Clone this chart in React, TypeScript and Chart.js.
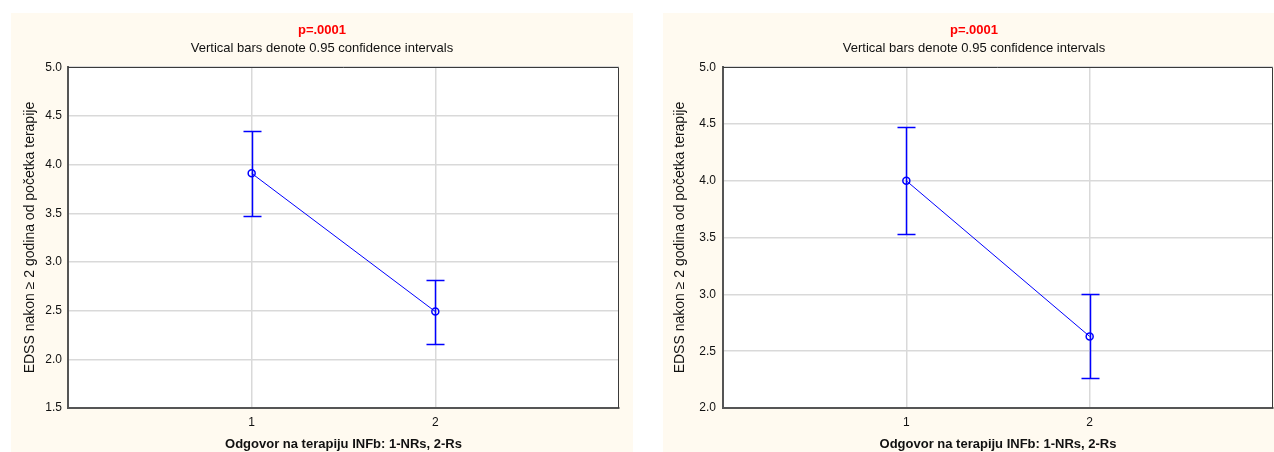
import React, { useEffect, useRef } from "react";
import { Chart, registerables } from "chart.js";

Chart.register(...registerables);

// ---- data ----
const categories = [1, 2];
const xTickLabels = ["1", "2"];

const leftMeans = [3.91, 2.49];
const leftUpper = [4.34, 2.81];
const leftLower = [3.47, 2.16];
const leftYRange = [1.5, 5.0];

const rightMeans = [4.0, 2.63];
const rightUpper = [4.47, 3.0];
const rightLower = [3.53, 2.26];
const rightYRange = [2.0, 5.0];

const titleText = "p=.0001";
const subtitleText = "Vertical bars denote 0.95 confidence intervals";
const yTitleText = "EDSS nakon \u2265 2 godina od po\u010detka terapije";
const xTitleText = "Odgovor na terapiju INFb: 1-NRs, 2-Rs";

const FONT = "'Liberation Sans', Arial, Helvetica, sans-serif";
const BLUE = "#0000ff";

type PanelProps = {
  means: number[];
  upper: number[];
  lower: number[];
  yRange: number[];
  width: number;
  height: number;
  yAxisWidth: number;
  rightMargin: number;
  yTitlePad: number;
  yTickPad: number;
};

function Panel(p: PanelProps) {
  const ref = useRef<HTMLCanvasElement>(null);
  useEffect(() => {
    const canvas = ref.current!;
    const errorBars = {
      id: "errorBars",
      afterDatasetsDraw(chart: any) {
        const { ctx } = chart;
        const x = chart.scales.x;
        const y = chart.scales.y;
        ctx.save();
        ctx.strokeStyle = BLUE;
        ctx.lineWidth = 1.5;
        categories.forEach((c, i) => {
          const px = Math.round(x.getPixelForValue(c)) + 0.5;
          const pu = Math.round(y.getPixelForValue(p.upper[i])) + 0.5;
          const pl = Math.round(y.getPixelForValue(p.lower[i])) + 0.5;
          ctx.beginPath();
          ctx.moveTo(px, pu);
          ctx.lineTo(px, pl);
          ctx.moveTo(px - 9, pu);
          ctx.lineTo(px + 9, pu);
          ctx.moveTo(px - 9, pl);
          ctx.lineTo(px + 9, pl);
          ctx.stroke();
        });
        ctx.restore();
      },
    };
    const plotBox = {
      id: "plotBox",
      beforeDraw(chart: any) {
        const { ctx, chartArea: a } = chart;
        ctx.save();
        ctx.fillStyle = "#ffffff";
        ctx.fillRect(a.left, a.top, a.right - a.left, a.bottom - a.top);
        ctx.restore();
      },
      afterDraw(chart: any) {
        const { ctx, chartArea: a } = chart;
        ctx.save();
        ctx.strokeStyle = "#3a3a3a";
        ctx.lineWidth = 1;
        const t = Math.round(a.top) + 0.5;
        const r = Math.round(a.right) - 0.5;
        ctx.beginPath();
        ctx.moveTo(a.left, t);
        ctx.lineTo(r, t);
        ctx.lineTo(r, a.bottom);
        ctx.stroke();
        ctx.restore();
      },
    };

    const chart = new Chart(canvas, {
      type: "line",
      data: {
        datasets: [
          {
            data: categories.map((c, i) => ({ x: c, y: p.means[i] })),
            borderColor: BLUE,
            borderWidth: 1,
            pointRadius: 3.5,
            pointBorderWidth: 1.5,
            pointBorderColor: BLUE,
            pointBackgroundColor: "rgba(255,255,255,0)",
            fill: false,
            tension: 0,
          },
        ],
      },
      options: {
        animation: false,
        responsive: false,
        maintainAspectRatio: false,
        layout: { padding: 0 },
        plugins: {
          legend: { display: false },
          tooltip: { enabled: false },
          title: {
            display: true,
            text: titleText,
            color: "#ff0000",
            font: { family: FONT, size: 13, weight: "bold", lineHeight: 1.2 },
            padding: { top: 10, bottom: 1 },
          },
          subtitle: {
            display: true,
            text: subtitleText,
            color: "#111111",
            font: { family: FONT, size: 13, weight: "normal", lineHeight: 1.2 },
            padding: { top: 1, bottom: 11 },
          },
        },
        scales: {
          x: {
            type: "linear",
            min: 0,
            max: 3,
            afterFit(s: any) {
              s.height = 44;
            },
            afterBuildTicks(s: any) {
              s.ticks = categories.map((v) => ({ value: v }));
            },
            ticks: {
              color: "#111111",
              font: { family: FONT, size: 12 },
              padding: 7,
              callback: (v: any) => {
                const i = categories.indexOf(Number(v));
                return i >= 0 ? xTickLabels[i] : "";
              },
            },
            grid: { color: "#d9d9d9", lineWidth: 1.5, drawTicks: false },
            border: { display: true, color: "#555555", width: 2 },
            title: {
              display: true,
              text: xTitleText,
              color: "#111111",
              font: { family: FONT, size: 13, weight: "bold", lineHeight: 1.2 },
              padding: { top: 0, bottom: 0 },
            },
          },
          y: {
            type: "linear",
            position: "left",
            min: p.yRange[0],
            max: p.yRange[1],
            afterFit(s: any) {
              s.width = p.yAxisWidth;
            },
            ticks: {
              stepSize: 0.5,
              color: "#111111",
              font: { family: FONT, size: 12 },
              padding: p.yTickPad,
              callback: (v: any) => Number(v).toFixed(1),
            },
            grid: { color: "#d9d9d9", lineWidth: 1.5, drawTicks: false },
            border: { display: true, color: "#555555", width: 2 },
            title: {
              display: true,
              text: yTitleText,
              color: "#111111",
              font: { family: FONT, size: 14, weight: "normal", lineHeight: 1.2 },
              padding: { top: p.yTitlePad, bottom: 0 },
            },
          },
          y2: {
            type: "linear",
            position: "right",
            display: true,
            afterFit(s: any) {
              s.width = p.rightMargin;
            },
            ticks: { display: false },
            grid: { display: false, drawTicks: false },
            border: { display: false },
          },
        },
      },
      plugins: [plotBox, errorBars],
    } as any);
    return () => chart.destroy();
  }, []);
  return (
    <canvas
      ref={ref}
      width={p.width}
      height={p.height}
      style={{ display: "block", width: p.width, height: p.height }}
    />
  );
}

export default function App() {
  return (
    <div
      style={{
        position: "fixed",
        left: 0,
        top: 0,
        width: 1274,
        height: 452,
        overflow: "hidden",
        background: "#ffffff",
      }}
    >
      <div
        style={{
          position: "absolute",
          left: 11,
          top: 13,
          width: 622,
          height: 439,
          background: "#fffaf0",
        }}
      >
        <Panel
          means={leftMeans}
          upper={leftUpper}
          lower={leftLower}
          yRange={leftYRange}
          width={622}
          height={439}
          yAxisWidth={57}
          rightMargin={14}
          yTitlePad={11}
          yTickPad={6}
        />
      </div>
      <div
        style={{
          position: "absolute",
          left: 663,
          top: 13,
          width: 622,
          height: 439,
          background: "#fffaf0",
        }}
      >
        <Panel
          means={rightMeans}
          upper={rightUpper}
          lower={rightLower}
          yRange={rightYRange}
          width={622}
          height={439}
          yAxisWidth={60}
          rightMargin={12}
          yTitlePad={9}
          yTickPad={7}
        />
      </div>
    </div>
  );
}
